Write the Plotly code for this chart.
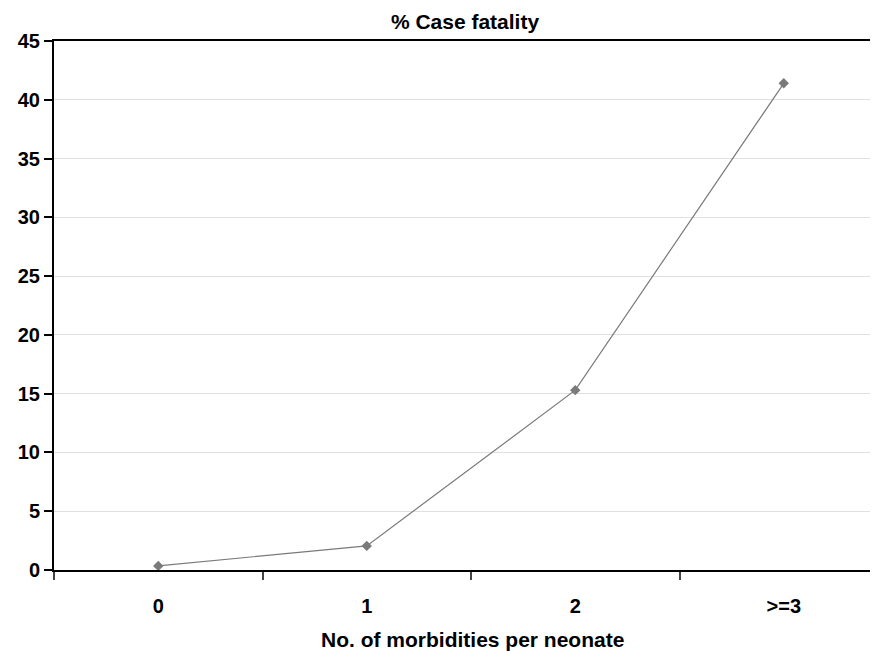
import plotly.graph_objects as go

categories = ["0", "1", "2", ">=3"]
case_fatality = [0.35, 2.05, 15.3, 41.4]
y_ticks = [0, 5, 10, 15, 20, 25, 30, 35, 40, 45]

fig = go.Figure()
fig.add_trace(go.Scatter(
    x=categories, y=case_fatality, mode="lines+markers",
    line=dict(color="#7a7a7a", width=1.2),
    marker=dict(symbol="diamond", size=8, color="#7a7a7a"),
    showlegend=False,
))

font = "Liberation Sans, Arial, sans-serif"
W, H = 878, 643
PW = W - 46
fig.update_layout(
    width=W, height=H,
    margin=dict(l=46, r=0, t=33, b=81),
    plot_bgcolor="white", paper_bgcolor="white",
    font=dict(family=font, color="black"),
    title=dict(text="<b>% Case fatality</b>", x=457/W, xanchor="center",
               y=1 - 14/H, yanchor="middle", font=dict(size=21)),
    xaxis=dict(
        type="category", range=[-0.5, -0.5 + PW/208.5],
        showline=True, linecolor="black", linewidth=2, mirror=True,
        ticks="outside", tickson="boundaries", ticklen=8, tickwidth=1.5, tickcolor="#444",
        showgrid=False,
        tickfont=dict(size=20, family=font),
        ticklabelstandoff=17,
    ),
    yaxis=dict(
        range=[0, 45], tickvals=y_ticks,
        ticktext=[f"<b>{v}</b>" for v in y_ticks],
        showline=True, linecolor="black", linewidth=2,
        ticks="outside", ticklen=8, tickwidth=1.5, tickcolor="black",
        showgrid=True, gridcolor="#e0e0e0", gridwidth=1,
        zeroline=False,
        tickfont=dict(size=20, family=font),
    ),
    annotations=[dict(
        text="<b>No. of morbidities per neonate</b>", xref="paper", yref="paper",
        x=(464 - 46) / PW, y=-0.132, xanchor="center", yanchor="middle", showarrow=False,
        font=dict(size=21, family=font, color="black"),
    )],
)
fig.update_xaxes(ticktext=[f"<b>{c}</b>" for c in categories], tickvals=categories)

fig.write_html("out.html")
